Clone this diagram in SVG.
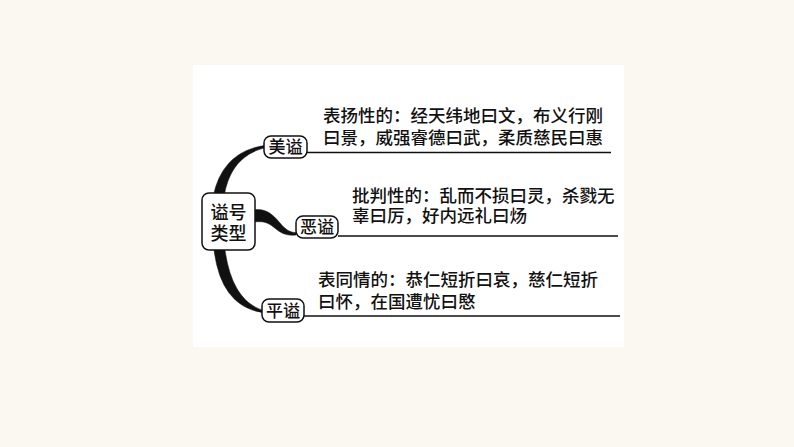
<svg xmlns="http://www.w3.org/2000/svg" width="794" height="447" viewBox="0 0 794 447">
<style>
.t{font-family:"Noto Sans CJK SC","Noto Sans",sans-serif;font-size:17.5px;font-weight:500;fill:#111}
.b{font-family:"Noto Sans CJK SC","Noto Sans",sans-serif;font-size:17px;font-weight:500;fill:#111;text-anchor:middle}
.r{font-family:"Noto Sans CJK SC","Noto Sans",sans-serif;font-size:18px;font-weight:500;fill:#111;text-anchor:middle}
.box{fill:#fff;stroke:#111;stroke-width:1.5}
.ul{stroke:#111;stroke-width:1.5;fill:none}
.br{fill:#111;stroke:#111;stroke-width:0.5}
</style>
<rect x="0" y="0" width="794" height="447" fill="#fbf8f1"/>
<rect x="193" y="65" width="431" height="282" fill="#ffffff"/>
<g id="connectors">
<path class="br" d="M213,197 Q222,152 264,145.5 L264,148 Q230,157 224,197 Z"/>
<path class="br" d="M254,210 C264,208 272,213 280,223 C286,230 290,232.5 296,232.5 L296,235 C288,236 282,234 276,229 C268,222 263,221 254,222 Z"/>
<path class="br" d="M214,250 Q221,306 262,312.5 L262,310 Q232,300 225,250 Z"/>
<path class="ul" d="M307,152.5 H611"/>
<path class="ul" d="M338,236 H618"/>
<path class="ul" d="M304,316 H620"/>
</g>
<g id="root">
<rect class="box" x="202" y="193" width="53" height="57" rx="7"/>
<text class="r" x="228.5" y="218.5">谥号</text>
<text class="r" x="228.5" y="240">类型</text>
</g>
<g id="meishi">
<rect class="box" x="264" y="136" width="43" height="22" rx="7"/>
<text class="b" x="285.5" y="153">美谥</text>
<text class="t" x="323" y="122">表扬性的：经天纬地曰文，布义行刚</text>
<text class="t" x="323" y="144">曰景，威强睿德曰武，柔质慈民曰惠</text>
</g>
<g id="eshi">
<rect class="box" x="296" y="216" width="42" height="22" rx="7"/>
<text class="b" x="317" y="233">恶谥</text>
<text class="t" x="352" y="202">批判性的：乱而不损曰灵，杀戮无</text>
<text class="t" x="352" y="222">辜曰厉，好内远礼曰炀</text>
</g>
<g id="pingshi">
<rect class="box" x="262" y="299" width="42" height="23" rx="7"/>
<text class="b" x="283" y="316.5">平谥</text>
<text class="t" x="318" y="286">表同情的：恭仁短折曰哀，慈仁短折</text>
<text class="t" x="318" y="308">曰怀，在国遭忧曰愍</text>
</g>
</svg>
